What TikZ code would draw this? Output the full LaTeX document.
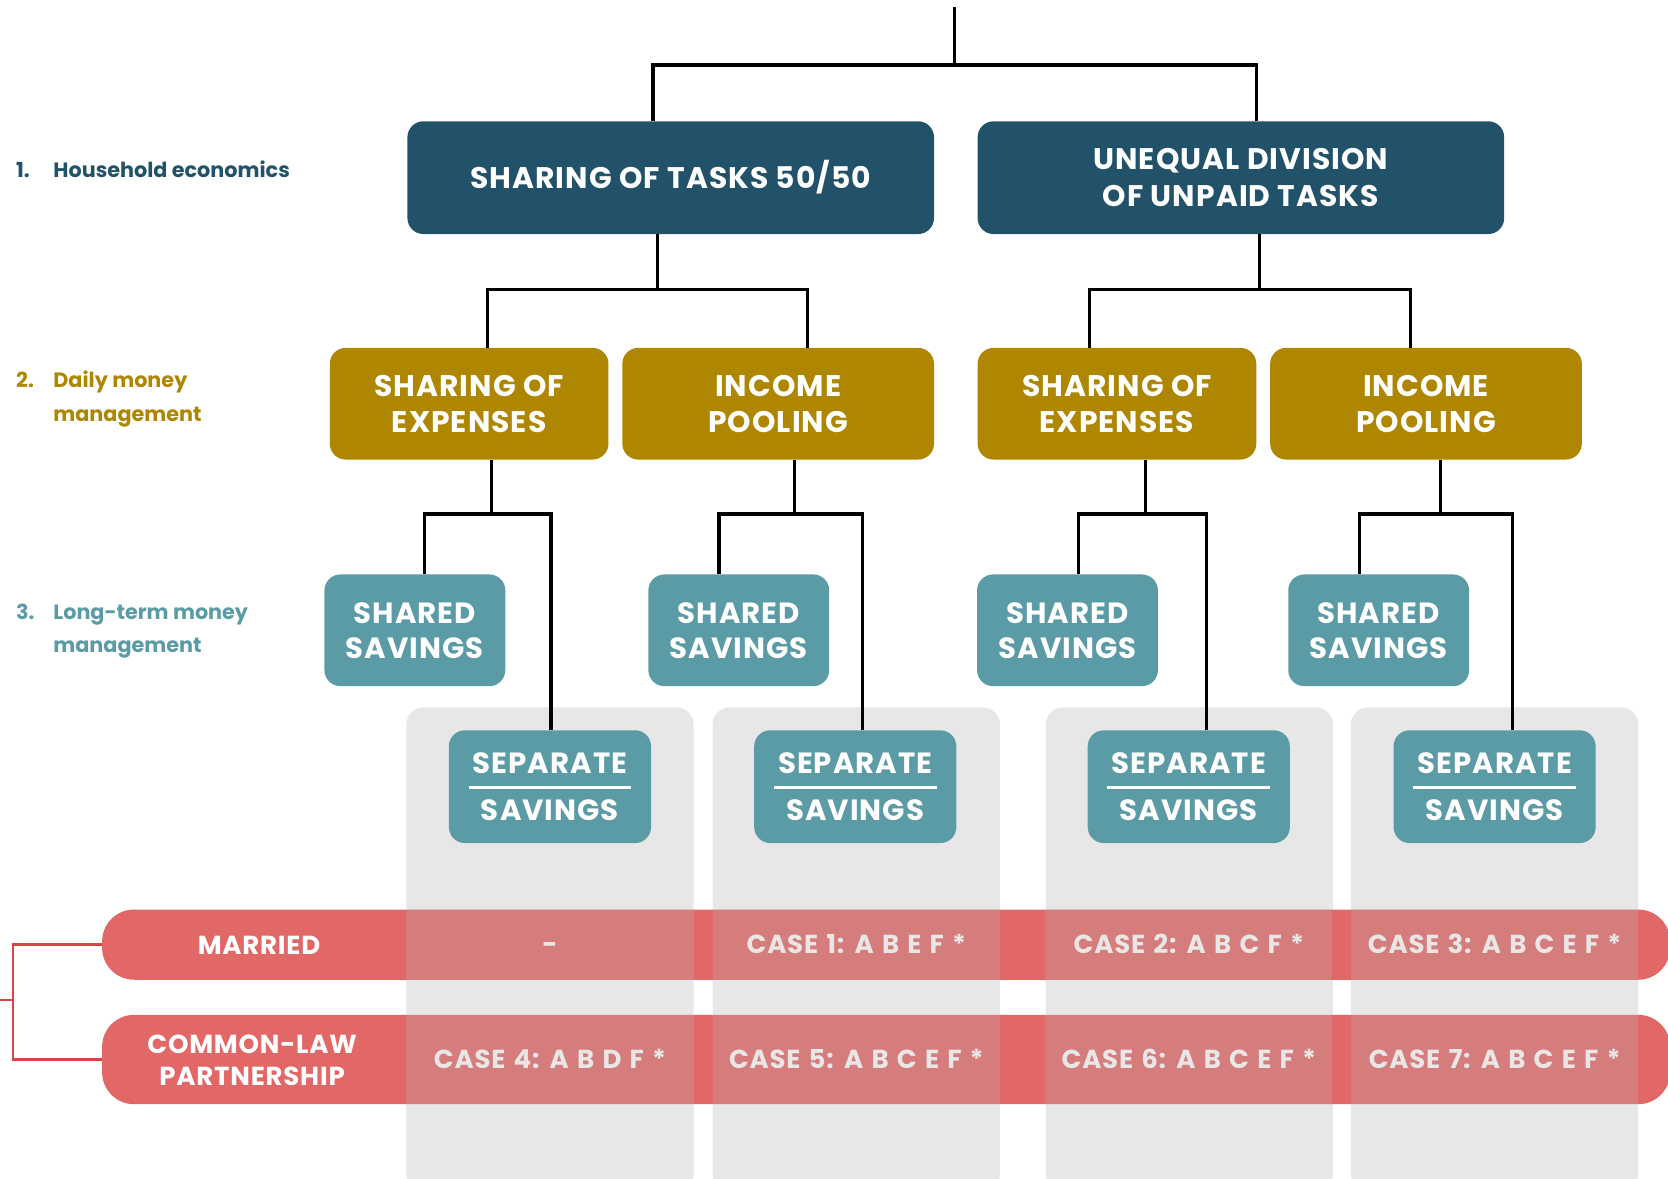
\documentclass[tikz,border=0pt]{standalone}
\usepackage{fontspec}
\setmainfont{Poppins}
\IfFontExistsTF{Poppins Bold}{%
  \newfontfamily\boldf{Poppins Bold}[LetterSpace=3.5]%
  \newfontfamily\casef{Poppins Bold}[LetterSpace=3.0,WordSpace=1.3]%
  \newfontfamily\labf{Poppins Bold}}{%
  \newfontfamily\boldf{Poppins}[LetterSpace=3.5]%
  \newfontfamily\casef{Poppins}[LetterSpace=3.0,WordSpace=1.3]%
  \newfontfamily\labf{Poppins}}
\definecolor{cnavy}{HTML}{215269}
\definecolor{cgold}{HTML}{AE8600}
\definecolor{cteal}{HTML}{5B9BA6}
\definecolor{colgray}{HTML}{E7E7E7}
\definecolor{barred}{HTML}{E26767}
\definecolor{cellred}{HTML}{D47D7C}
\definecolor{celltext}{HTML}{EAE6E6}
\definecolor{linkred}{HTML}{D94545}
\tikzset{
 conn/.style={line width=3.2pt, draw=black, line join=miter},
 hbox/.style={rounded corners=15pt, inner sep=0pt, text=white, align=center},
 lvone/.style={hbox, fill=cnavy, minimum width=495pt, minimum height=106pt, font=\boldf\fontsize{28}{34.5}\selectfont},
 lvtwo/.style={hbox, fill=cgold, minimum height=105pt, font=\boldf\fontsize{28}{34}\selectfont},
 lvthree/.style={hbox, fill=cteal, minimum width=170pt, minimum height=105pt, font=\boldf\fontsize{27.5}{33}\selectfont},
 sepbox/.style={hbox, fill=cteal, minimum width=190pt, minimum height=106pt, font=\boldf\fontsize{27.5}{45}\selectfont},
 bar/.style={rounded corners=30pt, fill=barred, minimum width=1474pt, inner sep=0pt},
 cell/.style={fill=cellred, minimum width=270pt, inner sep=0pt, text=celltext, text height=17.2pt, text depth=0pt, font=\casef\fontsize{24.5}{30}\selectfont},
 rowlabel/.style={text=white, align=center, inner sep=0pt, font=\casef\fontsize{24.5}{30}\selectfont},
 lvl/.style={anchor=base west, inner sep=0pt, font=\labf\fontsize{19.5}{32}\selectfont},
 redlink/.style={line width=2.2pt, draw=linkred},
 uline/.style={draw=white, line width=3pt},
}
\begin{document}
\begin{tikzpicture}[x=1pt,y=-1pt]
\useasboundingbox (0,0) rectangle (1568,1108);
\begin{scope}
\clip (0,0) rectangle (1568,1108);
% grey columns
\foreach \l in {382,670,983,1270}
  \fill[colgray, rounded corners=16pt] (\l,665) rectangle ++(270,455);
% red bars
\node[bar, minimum height=66pt] (married) at (833,888) {};
\node[bar, minimum height=84pt] (common) at (833,996) {};
% cells
\node[cell, minimum height=66pt] (m1) at (517,888) {-};
\node[cell, minimum height=66pt] (m2) at (805,888) {CASE 1: A B E F *};
\node[cell, minimum height=66pt] (m3) at (1117.5,888) {CASE 2: A B C F *};
\node[cell, minimum height=66pt] (m4) at (1405,888) {CASE 3: A B C E F *};
\node[cell, minimum height=84pt] (p1) at (517,996) {CASE 4: A B D F *};
\node[cell, minimum height=84pt] (p2) at (805,996) {CASE 5: A B C E F *};
\node[cell, minimum height=84pt] (p3) at (1117.5,996) {CASE 6: A B C E F *};
\node[cell, minimum height=84pt] (p4) at (1405,996) {CASE 7: A B C E F *};
% row labels
\node[rowlabel] (lmarried) at (243.5,889) {MARRIED};
\node[rowlabel] (lcommon) at (237,996.5) {COMMON-LAW\\PARTNERSHIP};
% red link
\coordinate (lk) at (0,940);
\draw[redlink] (married.west) -| (12.5,940) |- (common.west);
\draw[redlink] (lk) -- (12.5,940);
% level labels
\node[lvl, text=cnavy] (n1) at (15,167) {1.};
\node[lvl, text=cnavy] (t1) at (50,167) {Household economics};
\node[lvl, text=cgold] (n2) at (15,364) {2.};
\node[lvl, text=cgold] (t2a) at (50,364) {Daily money};
\node[lvl, text=cgold] (t2b) at (50,396) {management};
\node[lvl, text=cteal] (n3) at (15,582) {3.};
\node[lvl, text=cteal] (t3a) at (50,582) {Long-term money};
\node[lvl, text=cteal] (t3b) at (50,613) {management};
% boxes
\node[lvone, text height=19.6pt, text depth=0pt] (A) at (630.5,167) {SHARING OF TASKS 50/50};
\node[lvone] (B) at (1166.5,167) {UNEQUAL DIVISION\\OF UNPAID TASKS};
\node[lvtwo, minimum width=262pt] (C1) at (441,379.5) {SHARING OF\\EXPENSES};
\node[lvtwo, minimum width=293pt] (C2) at (731.5,379.5) {INCOME\\POOLING};
\node[lvtwo, minimum width=262pt] (C3) at (1050,379.5) {SHARING OF\\EXPENSES};
\node[lvtwo, minimum width=293pt] (C4) at (1340.5,379.5) {INCOME\\POOLING};
\node[lvthree] (S1) at (390,592.5) {SHARED\\SAVINGS};
\node[lvthree] (S2) at (694.5,592.5) {SHARED\\SAVINGS};
\node[lvthree] (S3) at (1003.5,592.5) {SHARED\\SAVINGS};
\node[lvthree] (S4) at (1296,592.5) {SHARED\\SAVINGS};
\node[sepbox] (P1) at (517,739.5) {SEPARATE\\SAVINGS};
\node[sepbox] (P2) at (804,739.5) {SEPARATE\\SAVINGS};
\node[sepbox] (P3) at (1117.5,739.5) {SEPARATE\\SAVINGS};
\node[sepbox] (P4) at (1405,739.5) {SEPARATE\\SAVINGS};
\foreach \p in {P1,P2,P3,P4}
  \draw[uline] ([xshift=-76.5pt,yshift=-1pt]\p.center) -- ([xshift=76.5pt,yshift=-1pt]\p.center);
% connectors
\coordinate (top) at (897,7);
\draw[conn] (top) -- (897,61);
\draw[conn] (A.north -| 614,0) -- (614,61) -- (1181,61) -- (B.north -| 1181,0);
\draw[conn] (A.south -| 618,0) -- (618,272);
\draw[conn] (C1.north -| 458,0) -- (458,272) -- (759,272) -- (C2.north -| 759,0);
\draw[conn] (B.south -| 1184,0) -- (1184,272);
\draw[conn] (C3.north -| 1024,0) -- (1024,272) -- (1326,272) -- (C4.north -| 1326,0);
\draw[conn] (C1.south -| 462,0) -- (462,483);
\draw[conn] (S1.north -| 399,0) -- (399,483) -- (518,483) -- (P1.north -| 518,0);
\draw[conn] (C2.south -| 747,0) -- (747,483);
\draw[conn] (S2.north -| 676,0) -- (676,483) -- (811,483) -- (P2.north -| 811,0);
\draw[conn] (C3.south -| 1077,0) -- (1077,483);
\draw[conn] (S3.north -| 1014,0) -- (1014,483) -- (1134,483) -- (P3.north -| 1134,0);
\draw[conn] (C4.south -| 1354,0) -- (1354,483);
\draw[conn] (S4.north -| 1278,0) -- (1278,483) -- (1422,483) -- (P4.north -| 1422,0);
\end{scope}
\end{tikzpicture}
\end{document}
